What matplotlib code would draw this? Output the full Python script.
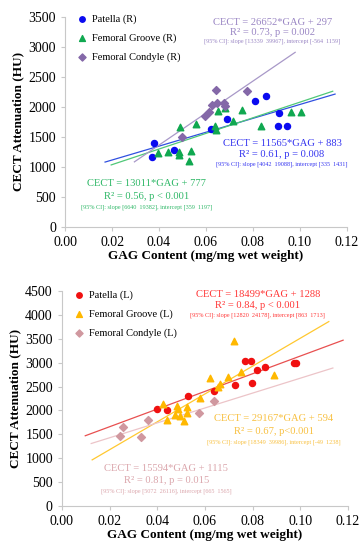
import matplotlib
matplotlib.use("Agg")
import matplotlib.pyplot as plt

plt.rcParams["font.family"] = ["Liberation Serif", "DejaVu Serif"]

# ---- right knee (top panel) ----
pat_r_x = [0.0369, 0.0379, 0.0462, 0.0621, 0.0688, 0.0809, 0.0855, 0.0910, 0.0908, 0.0946]
pat_r_y = [1161, 1405, 1278, 1633, 1795, 2105, 2183, 1895, 1689, 1689]
grv_r_x = [0.0396, 0.0437, 0.0485, 0.0485, 0.0526, 0.0536, 0.0489, 0.0556, 0.0638, 0.0643,
           0.0652, 0.0682, 0.0716, 0.0755, 0.0834, 0.0962, 0.1007]
grv_r_y = [1228, 1245, 1245, 1195, 1105, 1267, 1660, 1711, 1683, 1620,
           1939, 1978, 1772, 1950, 1683, 1911, 1911]
con_r_x = [0.0497, 0.0596, 0.0611, 0.0626, 0.0643, 0.0646, 0.0677, 0.0682, 0.0773]
con_r_y = [1500, 1855, 1922, 2039, 2283, 2072, 2072, 2017, 2272]

# fits: slope, intercept, x range of drawn line
fit_pat_r = (11565, 883, 0.017, 0.115)
fit_grv_r = (13011, 777, 0.0196, 0.114)
fit_con_r = (26652, 297, 0.0295, 0.098)

# ---- left knee (bottom panel) ----
pat_l_x = [0.0399, 0.0439, 0.0530, 0.0637, 0.0727, 0.0768, 0.0792, 0.0799, 0.0819, 0.0851, 0.0972, 0.0982]
pat_l_y = [2020, 2010, 2310, 2400, 2540, 3040, 3040, 2580, 2840, 2900, 2990, 2990]
grv_l_x = [0.0423, 0.0440, 0.0475, 0.0484, 0.0488, 0.0495, 0.0512, 0.0527, 0.0527, 0.0578,
           0.0622, 0.0654, 0.0665, 0.0699, 0.0723, 0.0750, 0.0891]
grv_l_y = [2140, 1800, 1905, 2093, 2024, 1884, 1785, 2065, 1953, 2250,
           2672, 2497, 2553, 2693, 3453, 2810, 2742]
con_l_x = [0.0244, 0.0257, 0.0334, 0.0361, 0.0575, 0.0637]
con_l_y = [1465, 1647, 1451, 1800, 1940, 2198]

fit_pat_l = (18499, 1288, 0.0098, 0.118)
fit_grv_l = (29167, 594, 0.0127, 0.112)
fit_con_l = (15594, 1115, 0.0123, 0.1137)

xticks = [0.00, 0.02, 0.04, 0.06, 0.08, 0.10, 0.12]


def fit_line(ax, fit, color):
    m, b, x0, x1 = fit
    ax.plot([x0, x1], [m * x0 + b, m * x1 + b], color=color, lw=0.9, zorder=1)


def eq_text(ax, x, y, dy, lines, color):
    eq, r2, ci = lines
    ax.text(x, y, eq, color=color, fontsize=7.6, ha="center", va="center", transform=ax.transAxes)
    ax.text(x, y - dy, r2, color=color, fontsize=7.6, ha="center", va="center", transform=ax.transAxes)
    ax.text(x, y - 2 * dy * 0.93, ci, color=color, fontsize=4.4, ha="center", va="center",
            transform=ax.transAxes)


def style(ax, ymax, ystep):
    ax.set_xlim(0, 0.12)
    ax.set_ylim(0, ymax)
    ax.set_xticks(xticks)
    ax.set_xticklabels([f"{t:.2f}" for t in xticks])
    ax.set_yticks(range(0, ymax + 1, ystep))
    for s in ["top", "right"]:
        ax.spines[s].set_visible(False)
    for s in ["left", "bottom"]:
        ax.spines[s].set_color("#c8c8c8")
        ax.spines[s].set_linewidth(0.8)
    ax.tick_params(colors="#c8c8c8", labelcolor="black", labelsize=10, length=3, width=0.8)
    ax.set_xlabel("GAG Content (mg/mg wet weight)", fontsize=9.5, fontweight="bold", labelpad=1)
    ax.set_ylabel("CECT Attenuation (HU)", fontsize=9.5, fontweight="bold", labelpad=3)


fig = plt.figure(figsize=(3.62, 5.44), dpi=100)

# top panel
ax1 = fig.add_axes([0.18, 0.583, 0.778, 0.386])
fit_line(ax1, fit_pat_r, "#3050e0")
fit_line(ax1, fit_grv_r, "#50c878")
fit_line(ax1, fit_con_r, "#a898c8")
ax1.scatter(pat_r_x, pat_r_y, s=19, marker="o", color="#0a0af0", label="Patella (R)", zorder=3)
ax1.scatter(grv_r_x, grv_r_y, s=22, marker="^", color="#10a850", label="Femoral Groove (R)", zorder=3)
ax1.scatter(con_r_x, con_r_y, s=16, marker="D", color="#8468a8", label="Femoral Condyle (R)", zorder=3)
style(ax1, 3500, 500)
ax1.legend(loc="upper left", bbox_to_anchor=(0.0, 1.04), frameon=False, fontsize=7.5,
           handletextpad=0.0, labelspacing=0.9, markerscale=0.9, borderaxespad=0.2)
eq_text(ax1, 0.735, 0.972, 0.048,
        ("CECT = 26652*GAG + 297", "R\u00b2 = 0.73, p = 0.002",
         "[95% CI]: slope [13339  39967], intercept [-564  1159]"), "#9a86c4")
eq_text(ax1, 0.770, 0.395, 0.052,
        ("CECT = 11565*GAG + 883", "R\u00b2 = 0.61, p = 0.008",
         "[95% CI]: slope [4042  19088], intercept [335  1431]"), "#3535f0")
eq_text(ax1, 0.290, 0.205, 0.060,
        ("CECT = 13011*GAG + 777", "R\u00b2 = 0.56, p < 0.001",
         "[95% CI]: slope [6640  19382], intercept [359  1197]"), "#30b868")

# bottom panel
ax2 = fig.add_axes([0.171, 0.070, 0.79, 0.395])
fit_line(ax2, fit_pat_l, "#e85050")
fit_line(ax2, fit_grv_l, "#ffc830")
fit_line(ax2, fit_con_l, "#ecc4c8")
ax2.scatter(pat_l_x, pat_l_y, s=19, marker="o", color="#f01010", label="Patella (L)", zorder=3)
ax2.scatter(grv_l_x, grv_l_y, s=22, marker="^", color="#ffb800", label="Femoral Groove (L)", zorder=3)
ax2.scatter(con_l_x, con_l_y, s=16, marker="D", color="#d0989f", label="Femoral Condyle (L)", zorder=3)
style(ax2, 4500, 500)
ax2.legend(loc="upper left", bbox_to_anchor=(0.0, 1.03), frameon=False, fontsize=7.5,
           handletextpad=0.0, labelspacing=0.9, markerscale=0.9, borderaxespad=0.2)
eq_text(ax2, 0.685, 0.985, 0.052,
        ("CECT = 18499*GAG + 1288", "R\u00b2 = 0.84, p < 0.001",
         "[95% CI]: slope [12820  24178], intercept [863  1713]"), "#ff3838")
eq_text(ax2, 0.740, 0.405, 0.058,
        ("CECT = 29167*GAG + 594", "R\u00b2 = 0.67, p<0.001",
         "[95% CI]: slope [18349  39986], intercept [-49  1238]"), "#f8c040")
eq_text(ax2, 0.365, 0.172, 0.056,
        ("CECT = 15594*GAG + 1115", "R\u00b2 = 0.81, p = 0.015",
         "[95% CI]: slope [5072  26116], intercept [665  1565]"), "#dba6ac")

fig.savefig("out.png", dpi=100)
